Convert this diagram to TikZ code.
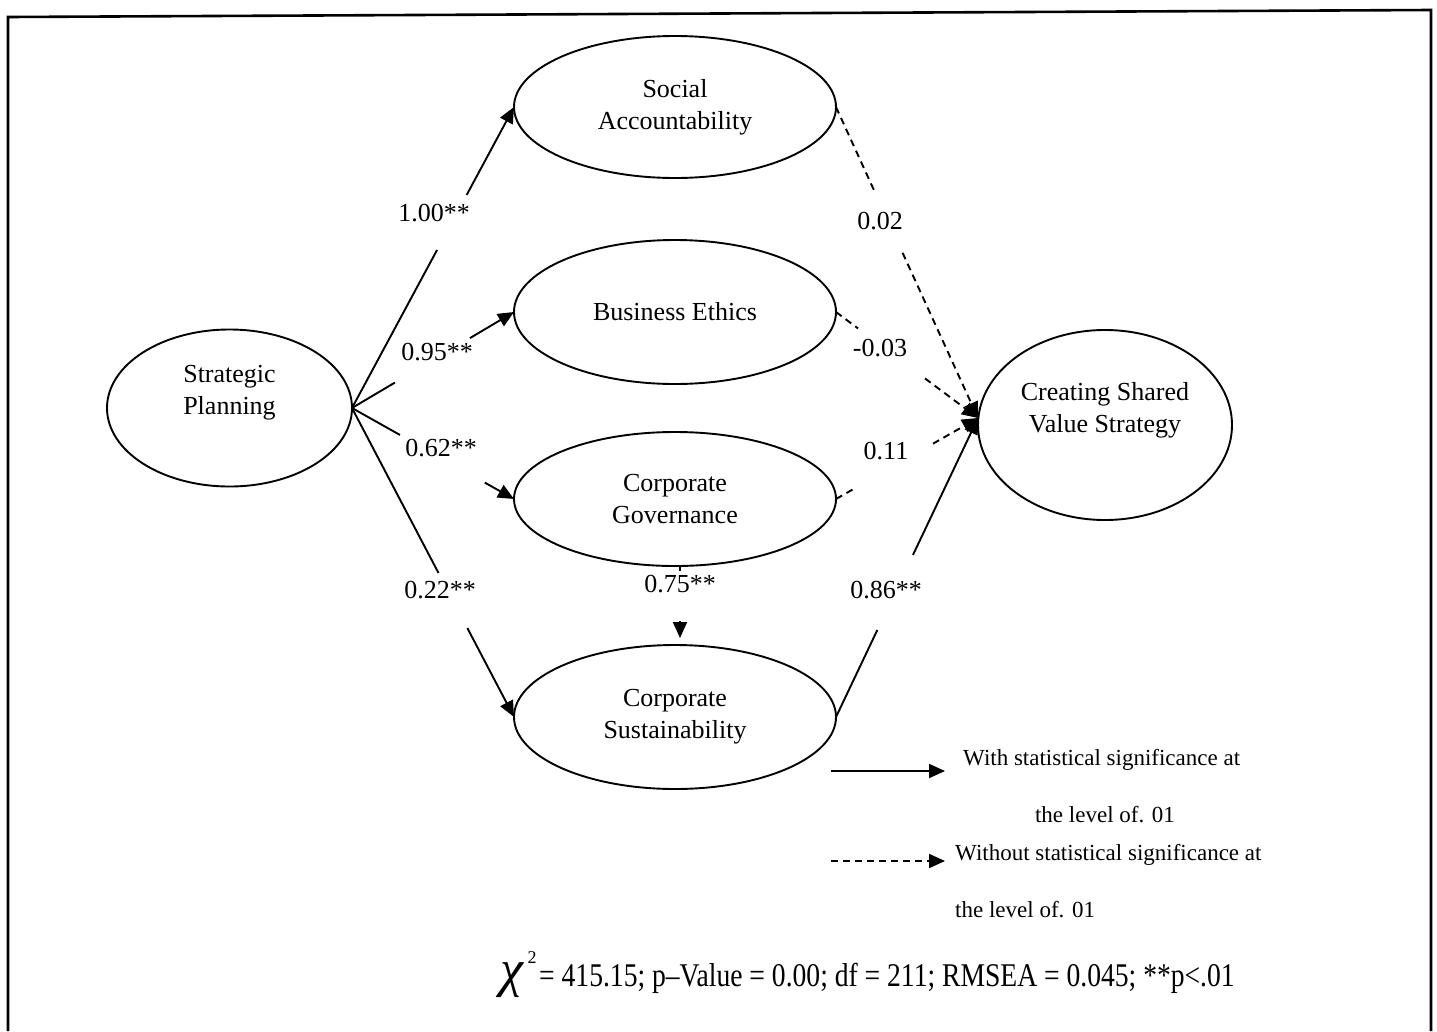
\documentclass[tikz,border=0pt]{standalone}
\usepackage{fontspec}
\setmainfont{Liberation Serif}
\usetikzlibrary{shapes.geometric,arrows.meta,calc}
\tikzset{
 lat/.style={ellipse,draw,line width=1.9pt,inner sep=0pt,outer sep=0pt,align=center,font=\fontsize{26}{32}\selectfont},
 txt/.style={inner sep=0pt,align=center,font=\fontsize{26}{32}\selectfont},
 conn/.style={line width=1.9pt},
 tip/.style={-{Triangle[length=16pt,width=14pt]}},
 dsh/.style={dash pattern=on 7pt off 5pt},
 lab/.style={font=\fontsize{26}{31}\selectfont,inner sep=0pt},
 leg/.style={font=\fontsize{23}{28}\selectfont,inner sep=0pt},
}
\begin{document}
\begin{tikzpicture}[x=1pt,y=-1pt]
\useasboundingbox (0,0) rectangle (1437,1031);
% frame
\draw[line width=2.6pt] (8,1031) -- (8,17) -- (1431,10) -- (1431,1031);

% latent variables
\node[lat,minimum width=245pt,minimum height=157pt] (SP) at (229.5,408) {};
\node[txt] (SPt) at (229.5,393) {Strategic\\Planning};
\node[lat,minimum width=322pt,minimum height=142pt] (SA) at (675,107) {Social\\Accountability};
\node[lat,minimum width=322pt,minimum height=144pt] (BE) at (675,312) {Business Ethics};
\node[lat,minimum width=322pt,minimum height=134pt] (CG) at (675,499) {Corporate\\Governance};
\node[lat,minimum width=322pt,minimum height=144pt] (CS) at (675,717) {Corporate\\Sustainability};
\node[lat,minimum width=254pt,minimum height=190pt] (CSV) at (1105,425) {};
\node[txt] (CSVt) at (1105,410) {Creating Shared\\Value Strategy};
\coordinate (in) at ($(CSV.west)+(0,-7)$);

% Strategic Planning -> mediators
\draw[conn] (SP.east) -- ($(SP.east)!0.525!(SA.west)$);
\draw[conn,tip] ($(SP.east)!0.708!(SA.west)$) -- (SA.west);
\draw[conn] (SP.east) -- ($(SP.east)!0.265!(BE.west)$);
\draw[conn,tip] ($(SP.east)!0.728!(BE.west)$) -- (BE.west);
\draw[conn] (SP.east) -- ($(SP.east)!0.296!(CG.west)$);
\draw[conn,tip] ($(SP.east)!0.82!(CG.west)$) -- (CG.west);
\draw[conn] (SP.east) -- ($(SP.east)!0.534!(CS.west)$);
\draw[conn,tip] ($(SP.east)!0.712!(CS.west)$) -- (CS.west);

% Governance -> Sustainability
\coordinate (cgs) at ([xshift=5pt]CG.south);
\coordinate (csn) at ([xshift=5pt]CS.north);
\draw[conn] (cgs) -- ($(cgs)!0.06!(csn)$);
\draw[conn,tip,shorten >=7pt] ($(cgs)!0.70!(csn)$) -- (csn);

% mediators -> CSV
\draw[conn,dsh] (SA.east) -- ($(SA.east)!0.273!(in)$);
\draw[conn,dsh,tip] ($(SA.east)!0.469!(in)$) -- (in);
\draw[conn,dsh] (BE.east) -- ($(BE.east)!0.155!(in)$);
\draw[conn,dsh,tip] ($(BE.east)!0.627!(in)$) -- (in);
\draw[conn,dsh] (CG.east) -- ($(CG.east)!0.134!(in)$);
\draw[conn,dsh,tip] ($(CG.east)!0.683!(in)$) -- (in);
\draw[conn] (CS.east) -- ($(CS.east)!0.291!(in)$);
\draw[conn,tip] ($(CS.east)!0.542!(in)$) -- (in);

% path labels
\node[lab] (l1) at (434,213) {1.00**};
\node[lab] (l2) at (437,352) {0.95**};
\node[lab] (l3) at (441,448) {0.62**};
\node[lab] (l4) at (440,590) {0.22**};
\node[lab] (l5) at (680,584) {0.75**};
\node[lab] (l6) at (880,221) {0.02};
\node[lab] (l7) at (880,348) {-0.03};
\node[lab] (l8) at (886,451) {0.11};
\node[lab] (l9) at (886,590) {0.86**};

% legend
\coordinate (La) at (831,771);
\coordinate (Lb) at (945,771);
\coordinate (Lc) at (831,861);
\coordinate (Ld) at (945,861);
\draw[conn,tip] (La) -- (Lb);
\draw[conn,dsh,tip] (Lc) -- (Ld);
\node[leg,anchor=west] (T1) at (963,760) {With statistical significance at};
\node[leg] (T2) at (1105,815) {the level of. 01};
\node[leg,anchor=west] (T3) at (955,855) {Without statistical significance at};
\node[leg,anchor=west] (T4) at (955,910) {the level of. 01};

% fit statistics
\node[inner sep=0pt,font=\fontsize{52}{52}\selectfont\itshape] (chi) at (512,980) {χ};
\node[inner sep=0pt,font=\fontsize{18}{18}\selectfont] (sq) at (532,958) {2};
\node[inner sep=0pt,anchor=west,font=\fontsize{27.6}{27.6}\selectfont] (stat) at (539,978) {\scalebox{1}[1.2]{= 415.15; p–Value = 0.00; df = 211; RMSEA = 0.045; **p<.01}};
\end{tikzpicture}
\end{document}
